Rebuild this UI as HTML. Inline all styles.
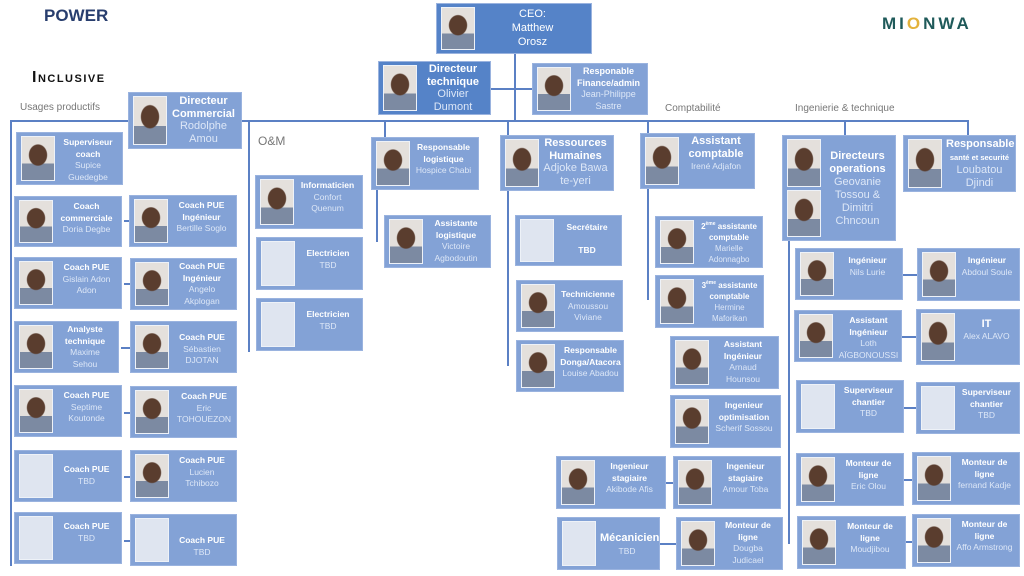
<!DOCTYPE html>
<html><head><meta charset="utf-8"><style>
body{margin:0;width:1024px;height:576px;background:#fff;position:relative;overflow:hidden;font-family:"Liberation Sans",sans-serif}
.b{position:absolute;background:#83a2d6;box-sizing:border-box;border:1px solid #9ab3df}
.d{background:#5583c8}
.p{position:absolute;left:4px;top:3px;width:34px;bottom:3px;border:1px solid #eef2f8;box-sizing:border-box;background:radial-gradient(ellipse 30% 26% at 50% 42%,#5a3d2e 90%,transparent 100%),linear-gradient(#e4e0dc 62%,#7c8aa2 62%)}
.e{background:#dfe5f0}
.t{position:absolute;left:42px;right:5px;top:4px;text-align:center;color:#fff;font-weight:bold;font-size:8.5px;line-height:11.5px}
.t i{display:block;font-weight:normal;font-style:normal;color:#dde7f7}
.h{font-size:11px;line-height:12.5px}
.l{position:absolute;background:#5b80c4}
.lab{position:absolute;color:#777;font-size:10px}
sup{font-size:5px;vertical-align:4px}
</style></head><body>
<div style="position:absolute;left:44px;top:6px;font:bold 17px 'Liberation Sans',sans-serif;color:#283e6e">POWER</div>
<div style="position:absolute;left:32px;top:69px;font:bold 16px 'Liberation Sans',sans-serif;font-variant:small-caps;letter-spacing:1.5px;color:#111">Inclusive</div>
<div style="position:absolute;left:882px;top:14px;font:bold 17px 'Liberation Sans',sans-serif;letter-spacing:3px;color:#1f5a5a">MI<span style="color:#e3b23c">O</span>NWA</div>
<div class="lab" style="left:20px;top:102px">Usages productifs</div>
<div class="lab" style="left:258px;top:134px;font-size:12px">O&amp;M</div>
<div class="lab" style="left:665px;top:103px">Comptabilité</div>
<div class="lab" style="left:795px;top:103px">Ingenierie &amp; technique</div>

<!-- lines -->
<div class="l" style="left:10px;top:120px;width:958px;height:2px"></div>
<div class="l" style="left:10px;top:120px;width:2px;height:446px"></div>
<div class="l" style="left:514px;top:54px;width:2px;height:67px"></div>
<div class="l" style="left:491px;top:88px;width:41px;height:2px"></div>
<div class="l" style="left:248px;top:120px;width:2px;height:232px"></div>
<div class="l" style="left:384px;top:120px;width:2px;height:17px"></div>
<div class="l" style="left:376px;top:190px;width:2px;height:52px"></div>
<div class="l" style="left:507px;top:120px;width:2px;height:246px"></div>
<div class="l" style="left:647px;top:120px;width:2px;height:180px"></div>
<div class="l" style="left:844px;top:120px;width:2px;height:15px"></div>
<div class="l" style="left:967px;top:120px;width:2px;height:15px"></div>
<div class="l" style="left:788px;top:241px;width:2px;height:303px"></div>
<div class="l" style="left:124px;top:220px;width:6px;height:2px"></div>
<div class="l" style="left:124px;top:283px;width:6px;height:2px"></div>
<div class="l" style="left:121px;top:347px;width:9px;height:2px"></div>
<div class="l" style="left:124px;top:412px;width:6px;height:2px"></div>
<div class="l" style="left:124px;top:476px;width:6px;height:2px"></div>
<div class="l" style="left:124px;top:540px;width:6px;height:2px"></div>
<div class="l" style="left:903px;top:274px;width:14px;height:2px"></div>
<div class="l" style="left:902px;top:336px;width:14px;height:2px"></div>
<div class="l" style="left:904px;top:407px;width:12px;height:2px"></div>
<div class="l" style="left:904px;top:479px;width:8px;height:2px"></div>
<div class="l" style="left:906px;top:541px;width:6px;height:2px"></div>
<div class="l" style="left:666px;top:482px;width:7px;height:2px"></div>
<div class="l" style="left:660px;top:543px;width:16px;height:2px"></div>

<!-- top -->
<div class="b d" style="left:436px;top:3px;width:156px;height:51px"><div class="p"></div><div class="t h" style="font-weight:normal;top:3px;line-height:14px">CEO:<br>Matthew<br>Orosz</div></div>
<div class="b d" style="left:378px;top:61px;width:113px;height:54px"><div class="p"></div><div class="t h" style="top:1px">Directeur technique<i>Olivier Dumont</i></div></div>
<div class="b" style="left:532px;top:63px;width:116px;height:52px"><div class="p"></div><div class="t" style="font-size:9px;top:2px">Responable Finance/admin<i>Jean-Philippe Sastre</i></div></div>
<div class="b" style="left:128px;top:92px;width:114px;height:57px"><div class="p"></div><div class="t h" style="top:2px">Directeur Commercial<i>Rodolphe Amou</i></div></div>

<!-- Commercial column -->
<div class="b" style="left:16px;top:132px;width:107px;height:53px"><div class="p"></div><div class="t">Superviseur coach<i>Supice Guedegbe</i></div></div>
<div class="b" style="left:14px;top:196px;width:108px;height:51px"><div class="p"></div><div class="t">Coach commerciale<i>Doria Degbe</i></div></div>
<div class="b" style="left:129px;top:195px;width:108px;height:52px"><div class="p"></div><div class="t">Coach PUE Ingénieur<i>Bertille Soglo</i></div></div>
<div class="b" style="left:14px;top:257px;width:108px;height:52px"><div class="p"></div><div class="t">Coach PUE<i>Gislain Adon Adon</i></div></div>
<div class="b" style="left:130px;top:258px;width:107px;height:52px"><div class="p"></div><div class="t" style="top:2px">Coach PUE Ingénieur<i>Angelo Akplogan</i></div></div>
<div class="b" style="left:14px;top:321px;width:105px;height:52px"><div class="p"></div><div class="t" style="top:2px">Analyste technique<i>Maxime Sehou</i></div></div>
<div class="b" style="left:130px;top:321px;width:107px;height:52px"><div class="p"></div><div class="t" style="top:10px">Coach PUE<i>Sébastien DJOTAN</i></div></div>
<div class="b" style="left:14px;top:385px;width:108px;height:52px"><div class="p"></div><div class="t">Coach PUE<i>Septime Koutonde</i></div></div>
<div class="b" style="left:130px;top:386px;width:107px;height:52px"><div class="p"></div><div class="t" style="right:1px">Coach PUE<i>Eric TOHOUEZON</i></div></div>
<div class="b" style="left:14px;top:450px;width:108px;height:52px"><div class="p e"></div><div class="t" style="top:13px">Coach PUE<i>TBD</i></div></div>
<div class="b" style="left:130px;top:450px;width:107px;height:52px"><div class="p"></div><div class="t">Coach PUE<i>Lucien Tchibozo</i></div></div>
<div class="b" style="left:14px;top:512px;width:108px;height:52px"><div class="p e"></div><div class="t" style="top:8px">Coach PUE<i>TBD</i></div></div>
<div class="b" style="left:130px;top:514px;width:107px;height:52px"><div class="p e"></div><div class="t" style="top:20px">Coach PUE<i>TBD</i></div></div>

<!-- O&M -->
<div class="b" style="left:255px;top:175px;width:108px;height:54px"><div class="p"></div><div class="t">Informaticien<i>Confort Quenum</i></div></div>
<div class="b" style="left:256px;top:237px;width:107px;height:53px"><div class="p e"></div><div class="t" style="top:10px">Electricien<i>TBD</i></div></div>
<div class="b" style="left:256px;top:298px;width:107px;height:53px"><div class="p e"></div><div class="t" style="top:10px">Electricien<i>TBD</i></div></div>

<!-- logistique -->
<div class="b" style="left:371px;top:137px;width:108px;height:53px"><div class="p"></div><div class="t">Responsable logistique<i>Hospice Chabi</i></div></div>
<div class="b" style="left:384px;top:215px;width:107px;height:53px"><div class="p"></div><div class="t" style="top:2px">Assistante logistique<i>Victoire Agbodoutin</i></div></div>

<!-- RH -->
<div class="b" style="left:500px;top:135px;width:114px;height:56px"><div class="p"></div><div class="t h" style="top:1px">Ressources Humaines<i>Adjoke Bawa te-yeri</i></div></div>
<div class="b" style="left:515px;top:215px;width:107px;height:51px"><div class="p e"></div><div class="t" style="top:6px">Secrétaire<br><br>TBD</div></div>
<div class="b" style="left:516px;top:280px;width:107px;height:52px"><div class="p"></div><div class="t" style="top:8px">Technicienne<i>Amoussou Viviane</i></div></div>
<div class="b" style="left:516px;top:340px;width:108px;height:52px"><div class="p"></div><div class="t" style="right:1px">Responsable Donga/Atacora<i>Louise Abadou</i></div></div>

<!-- compta -->
<div class="b" style="left:640px;top:133px;width:115px;height:56px"><div class="p"></div><div class="t h" style="top:1px">Assistant comptable<i style="font-size:8.5px;line-height:12px">Irené Adjafon</i></div></div>
<div class="b" style="left:655px;top:216px;width:108px;height:52px"><div class="p"></div><div class="t" style="right:0;left:40px;top:2px;font-size:8px;line-height:11px">2<sup>ème</sup>&nbsp;assistante comptable<i>Marielle Adonnagbo</i></div></div>
<div class="b" style="left:655px;top:275px;width:109px;height:53px"><div class="p"></div><div class="t" style="right:0;left:40px;top:2px;font-size:8px;line-height:11px">3<sup>ème</sup>&nbsp;assistante comptable<i>Hermine Maforikan</i></div></div>
<div class="b" style="left:670px;top:336px;width:109px;height:53px"><div class="p"></div><div class="t" style="top:2px">Assistant Ingénieur<i>Arnaud Hounsou</i></div></div>
<div class="b" style="left:670px;top:395px;width:111px;height:53px"><div class="p"></div><div class="t">Ingenieur optimisation<i>Scherif Sossou</i></div></div>
<div class="b" style="left:673px;top:456px;width:108px;height:53px"><div class="p"></div><div class="t">Ingenieur stagiaire<i>Amour Toba</i></div></div>
<div class="b" style="left:556px;top:456px;width:110px;height:53px"><div class="p"></div><div class="t">Ingenieur stagiaire<i>Akibode Afis</i></div></div>
<div class="b" style="left:557px;top:517px;width:103px;height:53px"><div class="p e"></div><div class="t h" style="top:14px">Mécanicien<i style="font-size:8.5px">TBD</i></div></div>
<div class="b" style="left:676px;top:517px;width:107px;height:53px"><div class="p"></div><div class="t" style="top:2px">Monteur de ligne<i>Dougba Judicael</i></div></div>

<!-- ingenierie -->
<div class="b" style="left:782px;top:135px;width:114px;height:106px"><div class="p" style="bottom:auto;height:48px"></div><div class="p" style="top:54px"></div><div class="t h" style="top:14px;line-height:13px">Directeurs operations<i>Geovanie Tossou &amp; Dimitri Chncoun</i></div></div>
<div class="b" style="left:903px;top:135px;width:113px;height:57px"><div class="p"></div><div class="t h" style="top:2px;right:2px">Responsable<br><span style="font-size:7.5px">santé et securité</span><i>Loubatou Djindi</i></div></div>
<div class="b" style="left:795px;top:248px;width:108px;height:52px"><div class="p"></div><div class="t" style="top:6px">Ingénieur<i>Nils Lurie</i></div></div>
<div class="b" style="left:917px;top:248px;width:103px;height:53px"><div class="p"></div><div class="t" style="top:6px">Ingénieur<i>Abdoul Soule</i></div></div>
<div class="b" style="left:794px;top:310px;width:108px;height:52px"><div class="p"></div><div class="t" style="right:1px">Assistant Ingénieur<i>Loth AÏGBONOUSSI</i></div></div>
<div class="b" style="left:916px;top:309px;width:104px;height:56px"><div class="p"></div><div class="t h" style="top:8px">IT<i style="font-size:8.5px;line-height:11.5px">Alex ALAVO</i></div></div>
<div class="b" style="left:796px;top:380px;width:108px;height:53px"><div class="p e"></div><div class="t">Superviseur chantier<i>TBD</i></div></div>
<div class="b" style="left:916px;top:382px;width:104px;height:52px"><div class="p e"></div><div class="t">Superviseur chantier<i>TBD</i></div></div>
<div class="b" style="left:796px;top:453px;width:108px;height:53px"><div class="p"></div><div class="t">Monteur de ligne<i>Eric Olou</i></div></div>
<div class="b" style="left:912px;top:452px;width:108px;height:53px"><div class="p"></div><div class="t">Monteur de ligne<i>fernand Kadje</i></div></div>
<div class="b" style="left:797px;top:516px;width:109px;height:53px"><div class="p"></div><div class="t">Monteur de ligne<i>Moudjibou</i></div></div>
<div class="b" style="left:912px;top:514px;width:108px;height:53px"><div class="p"></div><div class="t">Monteur de ligne<i>Affo Armstrong</i></div></div>
</body></html>
